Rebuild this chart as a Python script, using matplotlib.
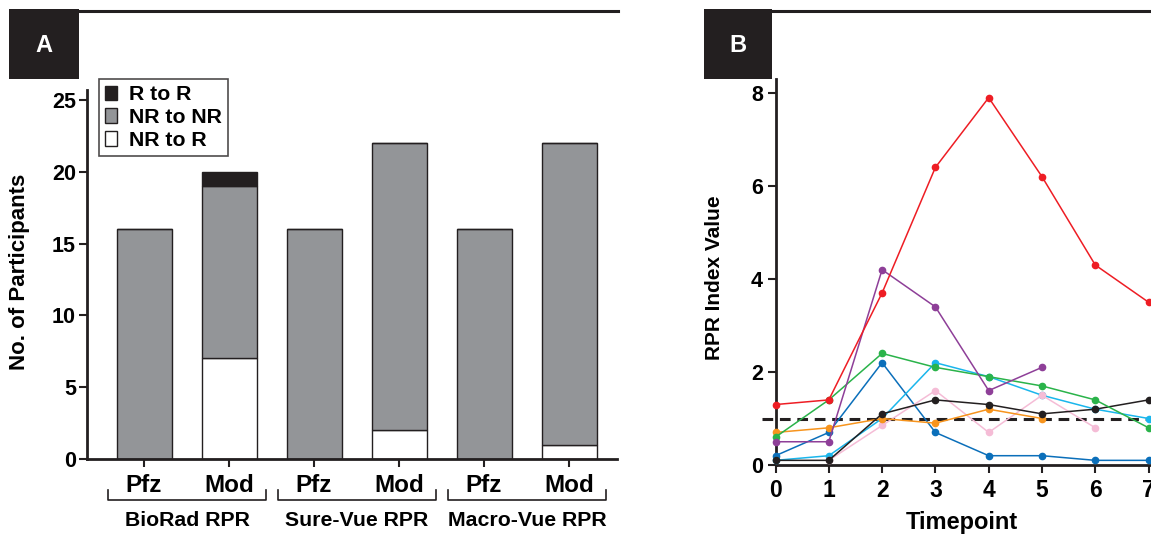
import numpy as np
import matplotlib
matplotlib.use("Agg")
import matplotlib.pyplot as plt
from matplotlib.patches import Rectangle, Patch
from matplotlib.lines import Line2D

plt.rcParams['font.family'] = ['Liberation Sans', 'DejaVu Sans']
plt.rcParams['font.weight'] = 'bold'

# ---------------- Data: panel A ----------------
bar_labels = ["Pfz", "Mod", "Pfz", "Mod", "Pfz", "Mod"]
groups = ["BioRad RPR", "Sure-Vue RPR", "Macro-Vue RPR"]
nr_to_r = [0, 7, 0, 2, 0, 1]
nr_to_nr = [16, 12, 16, 20, 16, 21]
r_to_r = [0, 1, 0, 0, 0, 0]
a_yticks = [0, 5, 10, 15, 20, 25]

# ---------------- Data: panel B ----------------
timepoints = [0, 1, 2, 3, 4, 5, 6, 7]
nan = np.nan
red = [1.3, 1.4, 3.7, 6.4, 7.9, 6.2, 4.3, 3.5]
purple = [0.5, 0.5, 4.2, 3.4, 1.6, 2.1, nan, nan]
green = [0.6, 1.4, 2.4, 2.1, 1.9, 1.7, 1.4, 0.8]
darkblue = [0.2, 0.7, 2.2, 0.7, 0.2, 0.2, 0.1, 0.1]
cyan = [0.1, 0.2, 1.0, 2.2, 1.9, 1.5, 1.2, 1.0]
black = [0.1, 0.1, 1.1, 1.4, 1.3, 1.1, 1.2, 1.4]
orange = [0.7, 0.8, 1.0, 0.9, 1.2, 1.0, nan, nan]
pink = [nan, 0.1, 0.85, 1.6, 0.7, 1.5, 0.8, nan]
threshold = 1.0
b_yticks = [0, 2, 4, 6, 8]

W, H = 1151, 535
fig = plt.figure(figsize=(W / 100, H / 100), dpi=100)

INK = "#231F20"
GRAY = "#939598"

def fx(px):
    return px / W

def fy(py):
    return 1 - py / H

# ---- headers (letter boxes + top rules) ----
for (x0, x1, x2, letter) in [(9, 79, 618, "A"), (704, 772, 1151, "B")]:
    fig.patches.append(Rectangle((fx(x0), fy(79)), fx(x1) - fx(x0), fy(9) - fy(79),
                                 transform=fig.transFigure, facecolor=INK,
                                 edgecolor='none'))
    fig.text(fx((x0 + x1) / 2), fy(45), letter, color='white', fontsize=17,
             fontweight='bold', ha='center', va='center')
    fig.lines.append(Line2D([fx(x1), fx(x2)], [fy(11), fy(11)],
                            transform=fig.transFigure, color=INK, lw=2.2))

# ---------------- Panel A ----------------
axA = fig.add_axes([fx(87), fy(459), fx(617) - fx(87), fy(90) - fy(459)])
x = np.arange(len(bar_labels))
bw = 55 / 85
axA.bar(x, nr_to_r, bw, color='white', edgecolor=INK, lw=1.0)
axA.bar(x, nr_to_nr, bw, bottom=nr_to_r, color=GRAY, edgecolor=INK, lw=1.0)
bottom2 = np.array(nr_to_r) + np.array(nr_to_nr)
axA.bar(x, r_to_r, bw, bottom=bottom2, color=INK, edgecolor=INK, lw=1.0)
axA.set_xlim((87 - 144) / 85, (617 - 144) / 85)
axA.set_ylim(0, 25.7)
axA.set_yticks(a_yticks)
axA.set_xticks(x)
axA.set_xticklabels(bar_labels, fontsize=17.5, fontweight='bold')
for s in ['top', 'right']:
    axA.spines[s].set_visible(False)
for s in ['left', 'bottom']:
    axA.spines[s].set_linewidth(2.0)
    axA.spines[s].set_color(INK)
axA.tick_params(axis='y', labelsize=15.5, width=1.5, length=6, pad=2, color=INK)
axA.tick_params(axis='x', width=1.5, length=6, pad=5, color=INK)
for lab in axA.get_yticklabels():
    lab.set_fontweight('bold')
fig.text(fx(20), fy(272), "No. of Participants", rotation=90, ha='center',
         va='center', fontsize=16, fontweight='bold')

# group brackets
for gi, g in enumerate(groups):
    b0 = [108, 278, 448][gi]
    b1 = [266, 436, 606][gi]
    fig.lines.append(Line2D([fx(b0), fx(b0), fx(b1), fx(b1)],
                            [fy(490), fy(500), fy(500), fy(490)],
                            transform=fig.transFigure, color=INK, lw=1.2))
    fig.text(fx((b0 + b1) / 2), fy(520), g, ha='center', va='center',
             fontsize=15.3, fontweight='bold')

handles = [Patch(facecolor=INK, edgecolor=INK, label="R to R"),
           Patch(facecolor=GRAY, edgecolor=INK, label="NR to NR"),
           Patch(facecolor='white', edgecolor=INK, label="NR to R")]
leg = axA.legend(handles=handles, loc='upper left',
                 bbox_to_anchor=(fx(99), fy(79)), bbox_transform=fig.transFigure,
                 prop={'size': 15.3, 'weight': 'bold'}, frameon=True, fancybox=False,
                 handlelength=0.55, handleheight=0.7, handletextpad=0.55,
                 borderpad=0.3, labelspacing=0.18, borderaxespad=0)
leg.get_frame().set_edgecolor(INK)
leg.get_frame().set_linewidth(1.2)

# ---------------- Panel B ----------------
ppu = 53.3
xr = 7.35
axB = fig.add_axes([fx(775.5), fy(465), (xr * ppu) / W, fy(79) - fy(465)])
series = [
    (darkblue, "#0B6FBA"),
    (cyan, "#1AB6EC"),
    (pink, "#F5BCD6"),
    (orange, "#F7941D"),
    (black, INK),
    (green, "#2AB34A"),
    (purple, "#8E3F98"),
    (red, "#EE1D24"),
]
for vals, col in series:
    axB.plot(timepoints, vals, color=col, lw=1.1, marker='o', markersize=4.5,
             clip_on=False, zorder=3)
axB.plot([-0.25, xr], [threshold, threshold], color=INK, lw=2.2,
         linestyle=(0, (3.5, 2.2)), clip_on=False, zorder=2)
axB.set_xlim(0, xr)
axB.set_ylim(0, (465 - 79) / 46.5)
axB.set_xticks(timepoints)
axB.set_yticks(b_yticks)
for s in ['top', 'right']:
    axB.spines[s].set_visible(False)
for s in ['left', 'bottom']:
    axB.spines[s].set_linewidth(2.0)
    axB.spines[s].set_color(INK)
axB.tick_params(axis='y', labelsize=15.5, width=1.5, length=6, pad=3, color=INK)
axB.tick_params(axis='x', labelsize=16.5, width=1.5, length=6, pad=4, color=INK)
for lab in axB.get_xticklabels() + axB.get_yticklabels():
    lab.set_fontweight('bold')
fig.text(fx(715), fy(278), "RPR Index Value", rotation=90, ha='center',
         va='center', fontsize=15, fontweight='bold')
fig.text(fx(962), fy(523), "Timepoint", ha='center', va='center',
         fontsize=17, fontweight='bold')

fig.savefig("out.png", dpi=100)
